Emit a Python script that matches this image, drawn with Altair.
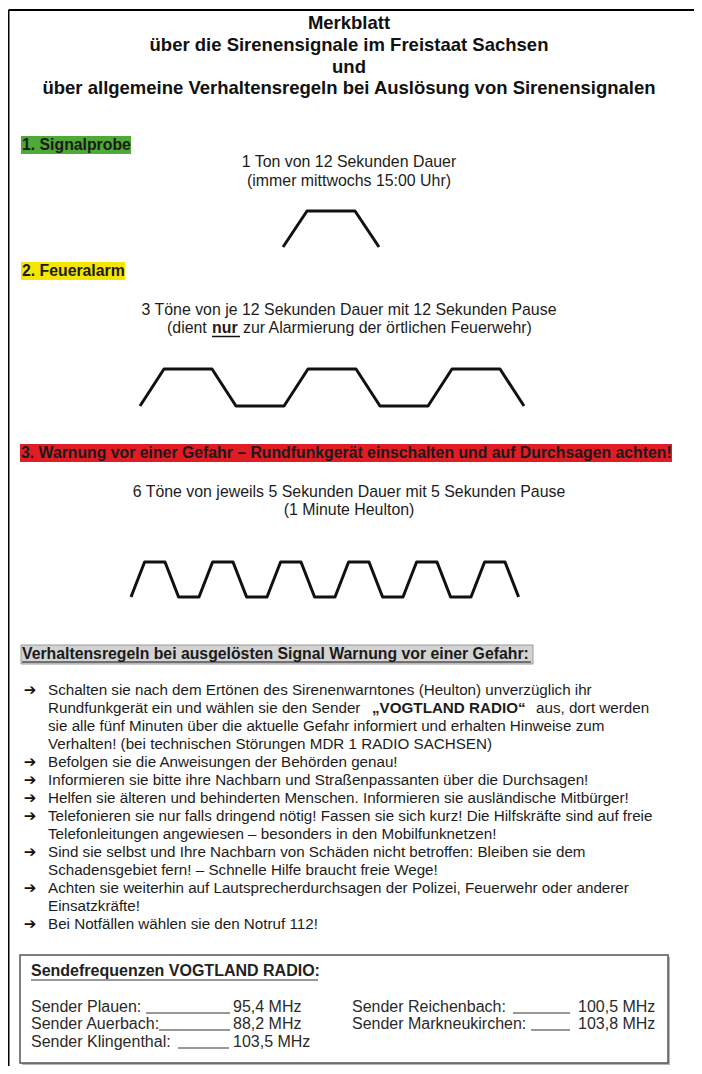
import altair as alt
import pandas as pd

# ---------------- content ----------------
title_lines = [
    "Merkblatt",
    "über die Sirenensignale im Freistaat Sachsen",
    "und",
    "über allgemeine Verhaltensregeln bei Auslösung von Sirenensignalen",
]
section_titles = [
    "1. Signalprobe",
    "2. Feueralarm",
    "3. Warnung vor einer Gefahr – Rundfunkgerät einschalten und auf Durchsagen achten!",
]
section_colors = ["#4fa935", "#f4e600", "#e21c24"]

signal1_lines = ["1 Ton von 12 Sekunden Dauer", "(immer mittwochs 15:00 Uhr)"]
signal2_line1 = "3 Töne von je 12 Sekunden Dauer mit 12 Sekunden Pause"
signal2_line2 = ["(dient", "nur", "zur Alarmierung der örtlichen Feuerwehr)"]
signal3_lines = ["6 Töne von jeweils 5 Sekunden Dauer mit 5 Sekunden Pause", "(1 Minute Heulton)"]

# siren waveforms: time (s) and level (0 = off, 1 = tone)
wave1_t = [0, 4, 12, 16]
wave1_level = [0, 1, 1, 0]
wave2_t = [0, 4, 12, 16, 24, 28, 36, 40, 48, 52, 60, 64]
wave2_level = [0, 1, 1, 0, 0, 1, 1, 0, 0, 1, 1, 0]
wave3_t = [0, 2, 5, 7, 10, 12, 15, 17, 20, 22, 25, 27, 30, 32, 35, 37, 40, 42, 45, 47, 50, 52, 55, 57]
wave3_level = [0, 1, 1, 0] * 6

rules_title = "Verhaltensregeln bei ausgelösten Signal Warnung vor einer Gefahr:"
bullets = [
    ["Schalten sie nach dem Ertönen des Sirenenwarntones (Heulton) unverzüglich ihr",
     ["Rundfunkgerät ein und wählen sie den Sender", "„VOGTLAND RADIO“", "aus, dort werden"],
     "sie alle fünf Minuten über die aktuelle Gefahr informiert und erhalten Hinweise zum",
     "Verhalten! (bei technischen Störungen MDR 1 RADIO SACHSEN)"],
    ["Befolgen sie die Anweisungen der Behörden genau!"],
    ["Informieren sie bitte ihre Nachbarn und Straßenpassanten über die Durchsagen!"],
    ["Helfen sie älteren und behinderten Menschen. Informieren sie ausländische Mitbürger!"],
    ["Telefonieren sie nur falls dringend nötig! Fassen sie sich kurz! Die Hilfskräfte sind auf freie",
     "Telefonleitungen angewiesen – besonders in den Mobilfunknetzen!"],
    ["Sind sie selbst und Ihre Nachbarn von Schäden nicht betroffen: Bleiben sie dem",
     "Schadensgebiet fern! – Schnelle Hilfe braucht freie Wege!"],
    ["Achten sie weiterhin auf Lautsprecherdurchsagen der Polizei, Feuerwehr oder anderer",
     "Einsatzkräfte!"],
    ["Bei Notfällen wählen sie den Notruf 112!"],
]

freq_title = "Sendefrequenzen VOGTLAND RADIO:"
freq_left_names = ["Sender Plauen:", "Sender Auerbach:", "Sender Klingenthal:"]
freq_left_values = ["95,4 MHz", "88,2 MHz", "103,5 MHz"]
freq_right_names = ["Sender Reichenbach:", "Sender Markneukirchen:"]
freq_right_values = ["100,5 MHz", "103,8 MHz"]

# ---------------- layout (page pixel units) ----------------
W, H = 686, 1058
xs = alt.Scale(domain=[8, 8 + W], nice=False, zero=False)
ys = alt.Scale(domain=[8, 8 + H], nice=False, zero=False, reverse=True)
FONT = "Liberation Sans"
INK = "#1c1c1c"

title_y = [23, 45, 67, 88]
title_x = 349
sec_boxes = [(21, 131, 136, 154), (21, 125, 262, 280), (20, 672, 444, 462)]
sig1_y = [162, 181]
sig2_y = [310, 328]
sig3_y = [492, 510]
sig_x = 349
wave_place = [  # x origin, px per second, baseline y, top y
    (283, 6.0, 247, 211),
    (140, 6.0, 406, 369),
    (131, 6.8, 597, 562),
]
rules_box = (21, 533, 645, 664)
bullet_y0, bullet_dy = 690, 18.0
text_x, arrow_x = 48, 30
freq_box = (20, 668, 955, 1063)
freq_title_y = 971
freq_rows_y = [1007, 1024, 1042]


def X(f="x"):
    return alt.X(f"{f}:Q", scale=xs, axis=None)


def Y(f="y"):
    return alt.Y(f"{f}:Q", scale=ys, axis=None)


def text_layer(rows, size, weight="normal", align="left", color=INK, font=FONT):
    df = pd.DataFrame(rows, columns=["text", "x", "y"])
    return alt.Chart(df).mark_text(
        align=align, baseline="middle", fontSize=size, fontWeight=weight,
        font=font, color=color
    ).encode(x=X(), y=Y(), text="text:N")


def rect_layer(rows, stroke=None, strokeWidth=0):
    df = pd.DataFrame(rows, columns=["x", "x2", "y", "y2", "fill"])
    kw = dict(strokeWidth=strokeWidth)
    if stroke:
        kw["stroke"] = stroke
    return alt.Chart(df).mark_rect(**kw).encode(
        x=X(), x2="x2:Q", y=Y(), y2="y2:Q",
        fill=alt.Fill("fill:N", scale=None))


def rule_layer(rows, color="#111", width=1.2):
    df = pd.DataFrame(rows, columns=["x", "x2", "y", "y2"])
    return alt.Chart(df).mark_rule(color=color, strokeWidth=width).encode(
        x=X(), x2="x2:Q", y=Y(), y2="y2:Q")


layers = []

# page border
layers.append(rule_layer([(8.5, 8 + W, 10, 10), (8.5, 8.5, 10, 8 + H)], color="#000", width=2))

# title
layers.append(text_layer([(t, title_x, y) for t, y in zip(title_lines, title_y)], 18.5, "bold", "center", "#111"))

# section headers
layers.append(rect_layer([(b[0], b[1], b[2], b[3], c) for b, c in zip(sec_boxes, section_colors)]))
layers.append(text_layer([(t, b[0] + 1, (b[2] + b[3]) / 2) for t, b in zip(section_titles, sec_boxes)], 15.8, "bold", "left", "#1a1a1a"))

# signal descriptions
SIG = 15.9
layers.append(text_layer([(t, sig_x, y) for t, y in zip(signal1_lines, sig1_y)], SIG, "normal", "center"))
layers.append(text_layer([(signal2_line1, sig_x, sig2_y[0])], SIG, "normal", "center"))
layers.append(text_layer([(signal2_line2[0], 167, sig2_y[1]), (signal2_line2[2], 243, sig2_y[1])], SIG))
layers.append(text_layer([(signal2_line2[1], 212, sig2_y[1])], SIG, "bold"))
layers.append(rule_layer([(212, 240, sig2_y[1] + 8.5, sig2_y[1] + 8.5)], width=1.5))
layers.append(text_layer([(t, sig_x, y) for t, y in zip(signal3_lines, sig3_y)], SIG, "normal", "center"))

# waveforms
wrows = []
for wi, (ts, lv) in enumerate([(wave1_t, wave1_level), (wave2_t, wave2_level), (wave3_t, wave3_level)]):
    ox, pps, yb, yt = wave_place[wi]
    for k, (t, l) in enumerate(zip(ts, lv)):
        wrows.append({"wave": wi, "k": k, "x": ox + t * pps, "y": yb + (yt - yb) * l})
wdf = pd.DataFrame(wrows)
layers.append(alt.Chart(wdf).mark_line(color="#111", strokeWidth=3, strokeJoin="round").encode(
    x=X(), y=Y(), detail="wave:N", order="k:Q"))

# rules section header
layers.append(rect_layer([(rules_box[0], rules_box[1], rules_box[2], rules_box[3], "#d3d3d3")], stroke="#9a9a9a", strokeWidth=1))
layers.append(text_layer([(rules_title, rules_box[0] + 1, (rules_box[2] + rules_box[3]) / 2 - 1)], 15.8, "bold", "left", "#1a1a1a"))
layers.append(rule_layer([(rules_box[0] + 1, rules_box[1] - 2, rules_box[3] - 2, rules_box[3] - 2)], width=1.2))

# bullets
BODY = 15.2
plain, bold_rows, arrows = [], [], []
line_i = 0
for item in bullets:
    arrows.append(("➔", arrow_x, bullet_y0 + line_i * bullet_dy))
    for ln in item:
        y = bullet_y0 + line_i * bullet_dy
        if isinstance(ln, list):
            plain.append((ln[0], text_x, y))
            bold_rows.append((ln[1], 372, y))
            plain.append((ln[2], 536, y))
        else:
            plain.append((ln, text_x, y))
        line_i += 1
layers.append(text_layer(arrows, 15, "bold", "center", "#111", "DejaVu Sans"))
layers.append(text_layer(plain, BODY))
layers.append(text_layer(bold_rows, BODY, "bold"))

# frequency box
FQ = 16
fb = freq_box
layers.append(rect_layer([(fb[0] + 2, fb[1] + 2, fb[2] + 2, fb[3] + 2, "#b5b5b5")]))
layers.append(rect_layer([(fb[0], fb[1], fb[2], fb[3], "#ffffff")], stroke="#555555", strokeWidth=1.5))
layers.append(text_layer([(freq_title, 31, freq_title_y)], FQ, "bold", "left", "#222"))
layers.append(rule_layer([(31, 318, freq_title_y + 9, freq_title_y + 9)], color="#333", width=1.2))
frows = []
for n, v, y in zip(freq_left_names, freq_left_values, freq_rows_y):
    frows.append((n, 31, y))
    frows.append((v, 233, y))
for n, v, y in zip(freq_right_names, freq_right_values, freq_rows_y):
    frows.append((n, 352, y))
    frows.append((v, 578, y))
layers.append(text_layer(frows, FQ, "normal", "left", "#2a2a2a"))
blanks = [(146, 230), (159, 230), (178, 229)]
blanks_r = [(513, 570), (531, 570)]
brows = [(a, b, y + 6, y + 6) for (a, b), y in zip(blanks, freq_rows_y)]
brows += [(a, b, y + 6, y + 6) for (a, b), y in zip(blanks_r, freq_rows_y)]
layers.append(rule_layer(brows, color="#333", width=1.2))

chart = alt.layer(*layers).properties(
    width=W, height=H, padding=0, background="white",
    autosize=alt.AutoSizeParams(type="none"),
).configure_view(stroke=None)

chart.save("out.html", embed_options={"renderer": "svg", "actions": False})
